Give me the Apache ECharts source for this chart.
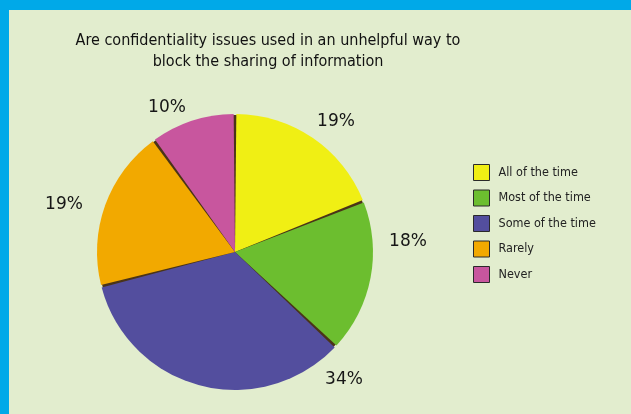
<!DOCTYPE html>
<html>
<head>
<meta charset="utf-8">
<script src="https://cdn.jsdelivr.net/npm/echarts@6/dist/echarts.min.js"></script>
<style>
  html, body { margin: 0; padding: 0; background: #E2EDCE; }
  #chart { width: 631px; height: 414px; }
</style>
</head>
<body>
<div id="chart"></div>
<script>
// Survey answers and their shares (percent)
const categories = ['All of the time', 'Most of the time', 'Some of the time', 'Rarely', 'Never'];
const shares = [19, 18, 34, 19, 10];
const sliceColors = ['#F0EF14', '#6CBE2F', '#534E9E', '#F2A900', '#C8569E'];

// Where each percentage label sits (pixel centres)
const labelSpots = [[336, 122], [408, 242], [344, 380], [64, 205], [167, 108]];

const narrow = "'Liberation Sans Narrow', 'DejaVu Sans Condensed', sans-serif";

const chart = echarts.init(document.getElementById('chart'), null, { renderer: 'canvas' });

chart.setOption({
  backgroundColor: '#E2EDCE',
  animation: false,
  title: {
    text: 'Are confidentiality issues used in an unhelpful way to\nblock the sharing of information',
    left: 268,
    top: 30,
    padding: 0,
    textAlign: 'center',
    textStyle: {
      fontFamily: narrow,
      fontSize: 16,
      fontWeight: 'normal',
      color: '#111',
      lineHeight: 21
    }
  },
  legend: {
    orient: 'vertical',
    left: 473,
    top: 164,
    padding: 0,
    itemWidth: 16,
    itemHeight: 16,
    itemGap: 8.5,
    icon: 'rect',
    data: categories,
    selectedMode: false,
    itemStyle: { borderColor: '#2a2a2a', borderWidth: 1 },
    textStyle: {
      fontFamily: narrow,
      fontSize: 12.5,
      lineHeight: 16,
      color: '#222',
      padding: [0, 0, 0, 4]
    }
  },
  graphic: [
    { type: 'rect', left: 0, top: 0, shape: { width: 631, height: 10 }, style: { fill: '#00A9E8' }, z: 10 },
    { type: 'rect', left: 0, top: 0, shape: { width: 9, height: 414 }, style: { fill: '#00A9E8' }, z: 10 }
  ],
  series: [
    {
      // dark disc that shows through the gaps as slice dividers
      type: 'pie',
      name: 'dividers',
      silent: true,
      center: [235, 252],
      radius: 137,
      z: 1,
      label: { show: false },
      labelLine: { show: false },
      itemStyle: { color: '#4a3418' },
      data: [{ value: 1, name: '' }]
    },
    {
      type: 'pie',
      name: 'share',
      center: [235, 252],
      radius: 138,
      startAngle: 90,
      clockwise: true,
      padAngle: 1.1,
      z: 2,
      data: categories.map((c, i) => ({
        name: c,
        value: shares[i],
        itemStyle: { color: sliceColors[i] }
      })),
      label: {
        show: true,
        formatter: '{c}%',
        fontFamily: "'DejaVu Sans', sans-serif",
        fontSize: 17,
        color: '#161616'
      },
      labelLine: { show: false },
      labelLayout: function (params) {
        const p = labelSpots[params.dataIndex];
        return { x: p[0], y: p[1], align: 'center', verticalAlign: 'middle' };
      }
    }
  ]
});
</script>
</body>
</html>
